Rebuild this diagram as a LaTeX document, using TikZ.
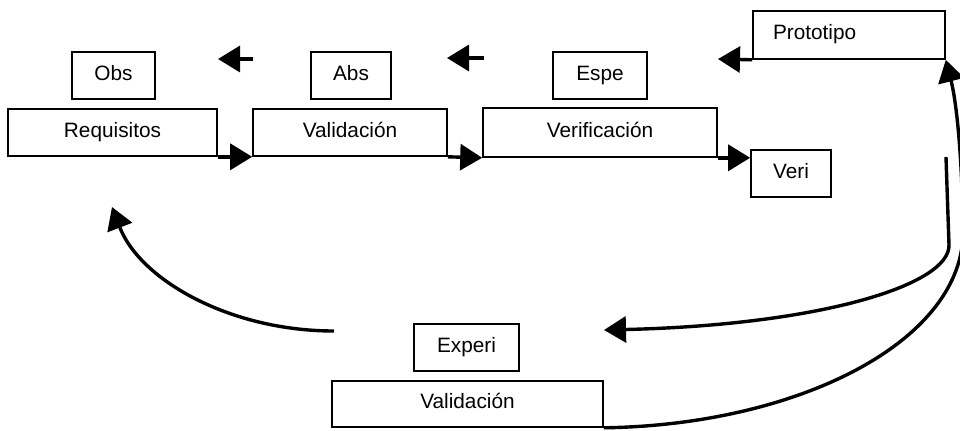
\documentclass[tikz,border=0pt]{standalone}
\usepackage{fontspec}
\setmainfont{Liberation Sans}
\usetikzlibrary{arrows.meta,positioning}

\begin{document}
\begin{tikzpicture}[x=0.5pt, y=-0.5pt,
		box/.style={draw, line width=0.8pt, inner sep=0pt, minimum height=23.5pt,
		            text height=7pt, text depth=2.5pt,
		            font=\fontsize{10.4}{12}\selectfont},
		flow/.style={-{Triangle[length=11pt,width=13pt]}, line width=1.7pt}]
		\useasboundingbox (0,0) rectangle (960,430);

		% upper row
		\path (113.5, 75.5)  node[box, minimum width=41.5pt]  (obs)   {Obs}
		      (112.5, 132.5) node[box, minimum width=104.5pt] (req)   {Requisitos}
		      (351, 75.5)    node[box, minimum width=40pt]    (abs)   {Abs}
		      (350, 132.5)   node[box, minimum width=97pt]    (val)   {Validación}
		      (600, 75.5)    node[box, minimum width=47pt]    (espe)  {Espe}
		      (600, 132.5)   node[box, minimum width=117pt, minimum height=24.5pt] (ver) {Verificación}
		      (791, 173.5)   node[box, minimum width=40pt]    (veri)  {Veri}
		      (849, 35)      node[box, minimum height=24pt, inner xsep=10pt,
		                          text width=76pt, align=left] (proto) {Prototipo};

		% lower row
		\path (466.5, 347.5) node[box, minimum width=52.5pt]  (exp)   {Experi}
		      (467.5, 404)   node[box, minimum width=135.5pt, minimum height=23pt] (valb) {Validación};

		\coordinate (l1) at (253, 59);
		\coordinate (l2) at (218, 59);
		\coordinate (l3) at (484, 58);
		\coordinate (l4) at (447, 58);
		\coordinate (p1) at (718, 59);
		\coordinate (b1) at (334, 331);
		\coordinate (b2) at (112, 207);
		\coordinate (r1) at (946, 157);
		\coordinate (r2) at (604, 330);

		\draw[flow] (req.south east) -- (val.south west);
		\draw[flow] (val.south east) -- (ver.south west);
		\draw[flow] (ver.south east) -- (ver.south east -| veri.west);
		\draw[flow] (l1) -- (l2);
		\draw[flow] (l3) -- (l4);
		\draw[flow] (proto.south west) -- (p1);

		% feedback curves
		\draw[flow] (b1) .. controls (230, 331) and (140, 280) .. (b2);
		\draw[flow] (r1) -- (949, 245) .. controls (950, 285) and (820, 325) .. (r2);
		\draw[flow] (valb.south east) .. controls (800, 425) and (965, 340) .. (963, 230)
		            .. controls (962, 150) and (956, 100) .. (proto.south east);
	\end{tikzpicture}
\end{document}
